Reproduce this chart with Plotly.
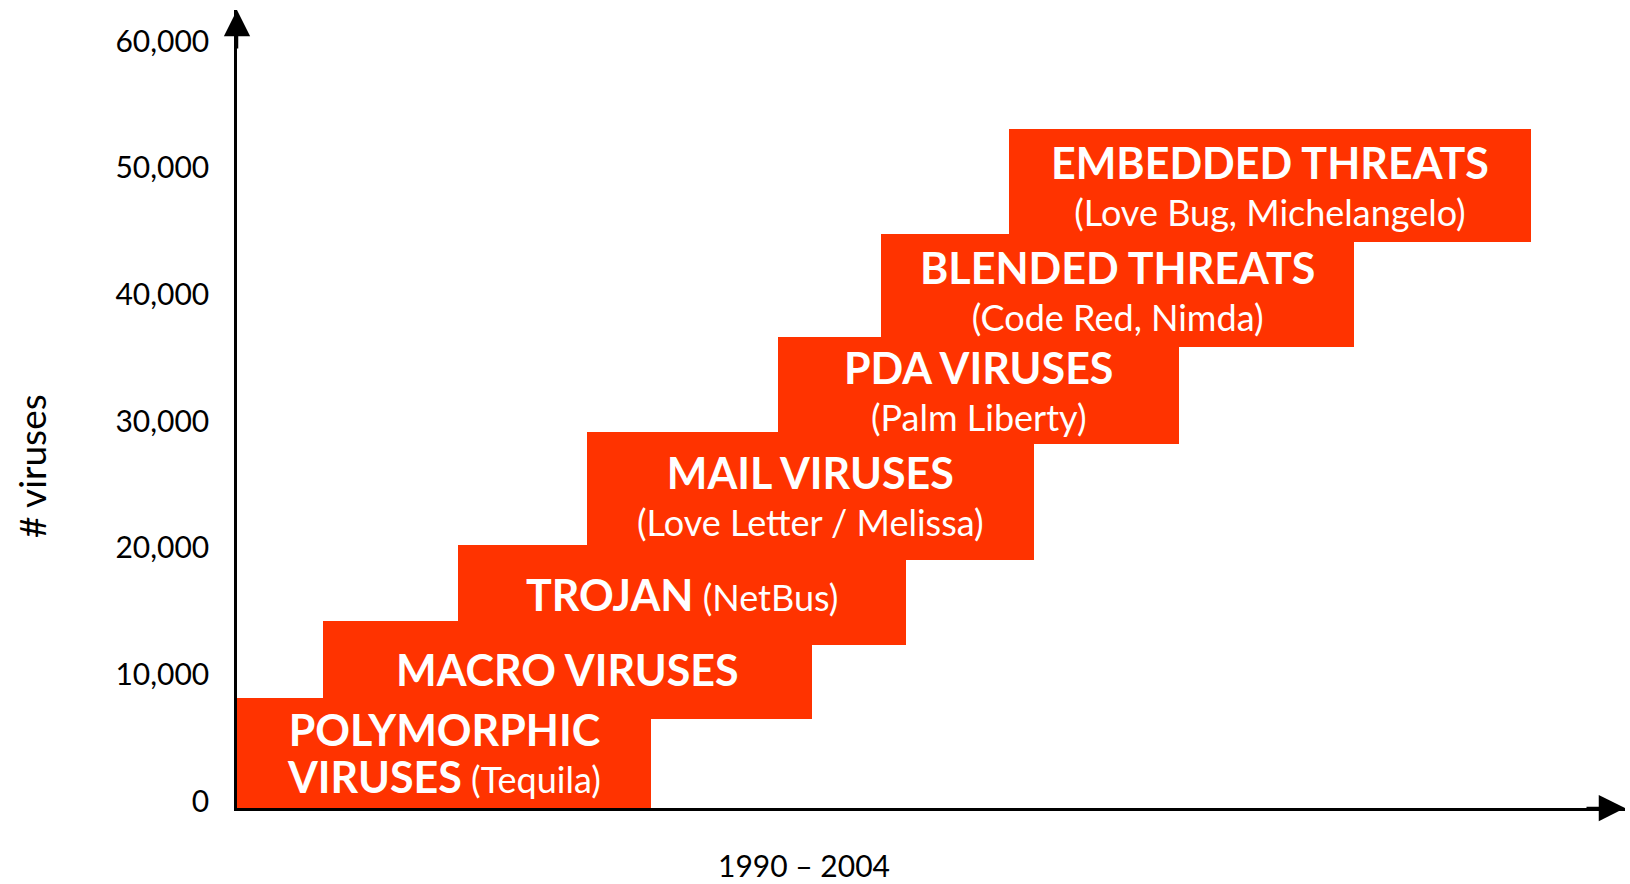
import plotly.graph_objects as go

# ---- data (relative time axis 0-100, y = number of viruses) ----
bold_labels = ["POLYMORPHIC<br>VIRUSES", "MACRO VIRUSES", "TROJAN", "MAIL VIRUSES",
               "PDA VIRUSES", "BLENDED THREATS", "EMBEDDED THREATS"]
examples = ["(Tequila)", "", "(NetBus)", "(Love Letter / Melissa)",
            "(Palm Liberty)", "(Code Red, Nimda)", "(Love Bug, Michelangelo)"]
example_newline = [False, False, False, True, True, True, True]
x_start = [0.0, 6.2, 15.9, 25.2, 39.0, 46.4, 55.6]
x_end = [29.8, 41.4, 48.2, 57.4, 67.9, 80.5, 93.2]
y_bottom = [0, 7030, 12910, 19590, 28750, 36410, 44710]
y_top = [8650, 14800, 20770, 29700, 37200, 45340, 53630]
y_ticks = [0, 10000, 20000, 30000, 40000, 50000, 60000]
x_title = "1990 \u2013 2004"
y_title = "# viruses"

RED = "#FF3300"
FONT = "Lato"
W, H = 1630, 884
ML, MR, MT, MB = 237, 5, 10, 76

centers = [(a + b) / 2 for a, b in zip(x_start, x_end)]
widths = [b - a for a, b in zip(x_start, x_end)]
heights = [t - b for t, b in zip(y_top, y_bottom)]

fig = go.Figure()
fig.add_trace(go.Bar(
    x=centers, width=widths, base=y_bottom, y=heights,
    marker=dict(color=RED, line=dict(width=0)),
    hoverinfo="skip", showlegend=False,
))

for i in range(len(bold_labels)):
    parts = bold_labels[i].split("<br>")
    txt = "<br>".join('<span style="font-size:43px"><b>' + p + "</b></span>" for p in parts)
    if examples[i]:
        txt += ("<br>" if example_newline[i] else " ") + examples[i]
    fig.add_annotation(
        x=centers[i], y=(y_bottom[i] + y_top[i]) / 2, xref="x", yref="y",
        text=txt, showarrow=False, align="center",
        font=dict(family=FONT, size=36, color="white"),
    )

Y_MAX = 63030
X_MAX = 100

# arrow heads on the axes
fig.add_annotation(x=0, y=Y_MAX, xref="x", yref="y", ax=0, ay=40, text="",
                   showarrow=True, arrowhead=2, arrowsize=2.1, arrowwidth=2.5,
                   arrowcolor="black", standoff=0)
fig.add_annotation(x=X_MAX, y=0, xref="x", yref="y", ax=-40, ay=0, text="",
                   showarrow=True, arrowhead=2, arrowsize=2.1, arrowwidth=2.5,
                   arrowcolor="black", standoff=0)


def px_to_paper(px, py):
    return (px - ML) / (W - ML - MR), (H - MB - py) / (H - MT - MB)


# axis titles
tx, ty = px_to_paper(31, 466)
fig.add_annotation(x=tx, y=ty, xref="paper", yref="paper", text=y_title,
                   showarrow=False, textangle=-90, xanchor="center", yanchor="middle",
                   font=dict(family=FONT, size=37, color="black"))
tx, ty = px_to_paper(804, 865)
fig.add_annotation(x=tx, y=ty, xref="paper", yref="paper", text=x_title,
                   showarrow=False, xanchor="center", yanchor="middle",
                   font=dict(family=FONT, size=30, color="black"))

fig.update_layout(
    width=W, height=H,
    margin=dict(l=ML, r=MR, t=MT, b=MB),
    plot_bgcolor="white", paper_bgcolor="white",
    font=dict(family=FONT, size=30, color="black"),
    xaxis=dict(range=[0, X_MAX], showgrid=False, zeroline=False,
               showticklabels=False, ticks="", showline=True,
               linecolor="black", linewidth=2.5),
    yaxis=dict(range=[0, Y_MAX], showgrid=False, zeroline=False,
               tickvals=y_ticks, tickformat=",", ticks="",
               ticklabelstandoff=19, ticklabelshift=-7,
               showline=True, linecolor="black", linewidth=2.5),
    bargap=0,
)

fig.write_html("out.html", config={"displayModeBar": False},
               post_script="document.body.style.margin='0';")
